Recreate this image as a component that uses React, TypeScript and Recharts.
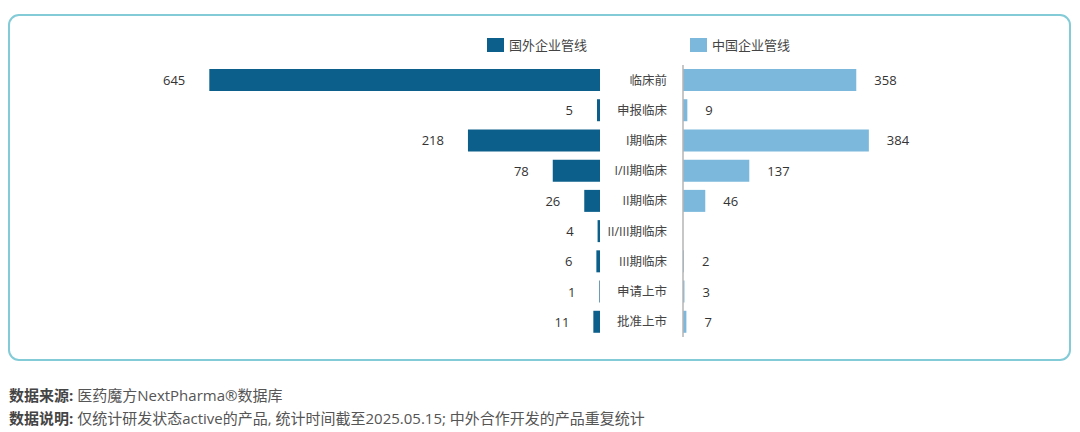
import React from 'react';
import { BarChart, Bar, XAxis, YAxis, LabelList } from 'recharts';

const categories = ['临床前', '申报临床', 'I期临床', 'I/II期临床', 'II期临床', 'II/III期临床', 'III期临床', '申请上市', '批准上市'];
const foreignValues: (number | null)[] = [645, 5, 218, 78, 26, 4, 6, 1, 11];
const chinaValues: (number | null)[] = [358, 9, 384, 137, 46, null, 2, 3, 7];
const seriesNames = ['国外企业管线', '中国企业管线'];

const DARK = '#0d5f8b';
const LIGHT = '#7bb8dc';
const AXIS = '#b5b5b5';
const FONT = '"Open Sans", "Noto Sans CJK SC", sans-serif';

const data = categories.map((c, i) => ({ name: c, foreign: foreignValues[i], china: chinaValues[i] }));

const makeLabel = (side: 'left' | 'right', offset: number) => (props: any) => {
  const { x, y, width, height, value } = props;
  if (value === null || value === undefined) return null;
  const cy = Number(y) + Number(height) / 2;
  if (side === 'left') {
    const left = Math.min(Number(x), Number(x) + Number(width));
    return (
      <text x={left - offset} y={cy} textAnchor="end" dominantBaseline="central" fill="#333" fontSize={13} fontFamily={FONT}>
        {value}
      </text>
    );
  }
  const right = Math.max(Number(x), Number(x) + Number(width));
  return (
    <text x={right + offset} y={cy} textAnchor="start" dominantBaseline="central" fill="#333" fontSize={13} fontFamily={FONT}>
      {value}
    </text>
  );
};

export default function App() {
  return (
    <div style={{ position: 'absolute', left: 0, top: 0, width: 1080, height: 432, background: '#fff', fontFamily: FONT }}>
      <div style={{ position: 'absolute', left: 8, top: 14, width: 1063, height: 347, border: '2px solid #84cbd8', borderRadius: 11, boxSizing: 'border-box' }} />

      <div style={{ position: 'absolute', left: 487, top: 35, display: 'flex', alignItems: 'center', fontSize: 13, color: '#444' }}>
        <span style={{ display: 'inline-block', width: 17, height: 14, background: DARK, marginRight: 5 }} />
        <span>{seriesNames[0]}</span>
      </div>
      <div style={{ position: 'absolute', left: 690, top: 35, display: 'flex', alignItems: 'center', fontSize: 13, color: '#444' }}>
        <span style={{ display: 'inline-block', width: 17, height: 14, background: LIGHT, marginRight: 5 }} />
        <span>{seriesNames[1]}</span>
      </div>

      <div style={{ position: 'absolute', left: 100, top: 55 }}>
        <BarChart width={510} height={292} data={data} layout="vertical" margin={{ top: 10, right: 10, bottom: 10, left: 76 }}>
          <XAxis type="number" domain={[0, 700]} reversed hide />
          <YAxis type="category" dataKey="name" orientation="right" width={0} tick={false} tickLine={false} axisLine={{ stroke: AXIS, strokeWidth: 1.5 }} />
          <Bar dataKey="foreign" fill={DARK} barSize={22} isAnimationActive={false}>
            <LabelList dataKey="foreign" content={makeLabel('left', 24)} />
          </Bar>
        </BarChart>
      </div>

      <div style={{ position: 'absolute', left: 600, top: 55 }}>
        <BarChart width={385} height={292} data={data} layout="vertical" margin={{ top: 10, right: 60, bottom: 10, left: 0 }}>
          <XAxis type="number" domain={[0, 500]} hide />
          <YAxis
            type="category"
            dataKey="name"
            width={83}
            tickLine={false}
            tickMargin={10}
            axisLine={{ stroke: AXIS, strokeWidth: 1.5 }}
            tick={{ fill: '#444', fontSize: 12.5, fontFamily: FONT }}
            interval={0}
          />
          <Bar dataKey="china" fill={LIGHT} barSize={22} isAnimationActive={false}>
            <LabelList dataKey="china" content={makeLabel('right', 18)} />
          </Bar>
        </BarChart>
      </div>

      <div style={{ position: 'absolute', left: 9, top: 384, fontSize: 15, color: '#555', lineHeight: '23px', whiteSpace: 'nowrap' }}>
        <div><b style={{ color: '#444' }}>数据来源:</b> 医药魔方NextPharma®数据库</div>
        <div><b style={{ color: '#444' }}>数据说明:</b> 仅统计研发状态active的产品, 统计时间截至2025.05.15; 中外合作开发的产品重复统计</div>
      </div>
    </div>
  );
}
